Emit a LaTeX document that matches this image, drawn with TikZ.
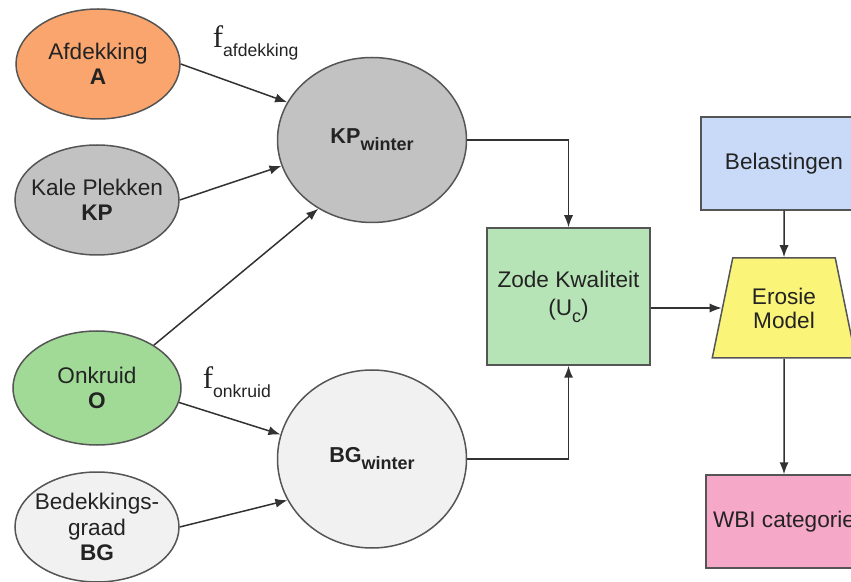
\documentclass[tikz,border=0pt]{standalone}
\usepackage{fontspec}
\setmainfont{Liberation Sans}
\newfontfamily\fserif{Liberation Serif}
\usetikzlibrary{shapes.geometric,arrows.meta}

\newcommand\lowtxt[1]{\raisebox{-3.5pt}{\fontsize{9}{10}\selectfont #1}}
\newcommand\flbl[1]{{\fserif\fontsize{15.5}{16}\selectfont f}\raisebox{-4.5pt}{\fontsize{8.8}{10}\selectfont #1}}

\begin{document}
\begin{tikzpicture}[>={Latex[length=6pt,width=4.6pt]},x=0.5pt,y=-0.5pt,line width=0.75pt,
  bol/.style={ellipse,draw=rand,text=tekst,inner sep=-8pt,minimum width=82pt,minimum height=55pt,
    align=center,font=\fontsize{11.3}{12.6}\selectfont},
  winter/.style={ellipse,draw=rand,text=tekst,inner sep=0pt,minimum width=94.5pt,
    font=\bfseries\fontsize{10.8}{13}\selectfont},
  blok/.style={rectangle,draw=rand,text=tekst,align=center,font=\fontsize{11.3}{14}\selectfont},
  pijl/.style={->,draw=lijn}]

\definecolor{rand}{RGB}{85,85,85}
\definecolor{lijn}{RGB}{50,50,50}
\definecolor{tekst}{RGB}{35,35,35}
\definecolor{oranje}{RGB}{250,165,110}
\definecolor{grijs}{RGB}{194,194,194}
\definecolor{groen}{RGB}{160,218,150}
\definecolor{lichtgrijs}{RGB}{241,241,241}
\definecolor{zodegroen}{RGB}{183,228,183}
\definecolor{blauw}{RGB}{201,218,248}
\definecolor{geel}{RGB}{250,244,120}
\definecolor{roze}{RGB}{246,168,200}

\useasboundingbox (0,0) rectangle (851,582);
\clip (0,0) rectangle (851,582);

% invoer
\node[bol,fill=oranje] (afd) at (98,64) {Afdekking\\\textbf{A}};
\node[bol,fill=grijs] (kp) at (97,200) {Kale Plekken\\\textbf{KP}};
\node[bol,fill=groen,minimum width=84pt,minimum height=57pt] (onk) at (97,388) {Onkruid\\\textbf{O}};
\node[bol,fill=lichtgrijs] (bg) at (97,527) {Bedekkings-\\graad\\\textbf{BG}};

% winter
\node[winter,fill=grijs,minimum height=82.5pt] (kpw) at (372,140) {KP\lowtxt{winter}};
\node[winter,fill=lichtgrijs,minimum height=89pt] (bgw) at (372,459) {BG\lowtxt{winter}};

% model
\node[blok,fill=zodegroen,minimum width=81.5pt,minimum height=68.5pt] (zode) at (568.5,296.5) {Zode Kwaliteit\\(U\lowtxt{c})};
\node[blok,fill=blauw,minimum width=83pt,minimum height=46.5pt] (bel) at (784,163.5) {Belastingen};
\node[trapezium,draw=rand,fill=geel,text=tekst,trapezium left angle=74,trapezium right angle=74,
  trapezium stretches=true,minimum width=72pt,minimum height=50pt,align=center,
  font=\fontsize{11.3}{12}\selectfont] (ero) at (784,308) {Erosie\\Model};
\node[blok,fill=roze,minimum width=78pt,minimum height=46.5pt] (wbi) at (784,521.5) {WBI categorie};

\node[anchor=base west,inner sep=0pt,text=tekst] (fafd) at (212,48) {\flbl{afdekking}};
\node[anchor=base west,inner sep=0pt,text=tekst] (fonk) at (202,389) {\flbl{onkruid}};

\draw[pijl] (afd.east) -- (kpw.156);
\draw[pijl] (kp.east) -- (kpw.196);
\draw[pijl] (onk.37) -- (kpw.232);
\draw[pijl] (onk.-10) -- (bgw.165);
\draw[pijl] (bg.east) -- (bgw.206);
\draw[pijl] (kpw.east) -| (zode.north);
\draw[pijl] (bgw.east) -| (zode.south);
\draw[pijl] (zode.east |- ero.west) -- (ero.west);
\draw[pijl] (bel) -- (ero);
\draw[pijl] (ero) -- (wbi);

\end{tikzpicture}
\end{document}
